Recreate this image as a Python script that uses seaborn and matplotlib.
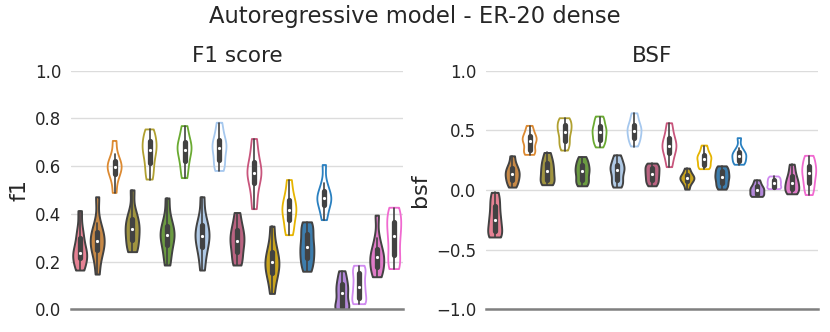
import numpy as np
import pandas as pd
import matplotlib
matplotlib.use("Agg")
import matplotlib.pyplot as plt
import seaborn as sns
from matplotlib.collections import PolyCollection

# one entry per violin, left to right
methods = [f"m{i}" for i in range(19)]
filled = [True, True, False, True, False, True, False, True, False, True,
          False, True, False, True, False, True, False, True, False]
colors = ["#f7718a", "#dc8a32", "#dc8a32", "#b0a030", "#b0a030", "#6aaa32", "#6aaa32",
          "#a6c8ee", "#a6c8ee", "#c8557c", "#c8557c", "#e6b400", "#e6b400",
          "#2a80c0", "#2a80c0", "#b47ae8", "#d08af0", "#f06ad0", "#f06ad0"]

f1_values = [
    [0.165, 0.185, 0.215, 0.228, 0.238, 0.262, 0.300, 0.335, 0.414],
    [0.148, 0.215, 0.247, 0.270, 0.286, 0.305, 0.324, 0.360, 0.472],
    [0.488, 0.540, 0.567, 0.585, 0.597, 0.607, 0.622, 0.650, 0.706],
    [0.242, 0.260, 0.289, 0.315, 0.337, 0.355, 0.379, 0.410, 0.501],
    [0.544, 0.580, 0.615, 0.645, 0.668, 0.685, 0.705, 0.730, 0.754],
    [0.186, 0.230, 0.268, 0.295, 0.312, 0.330, 0.351, 0.390, 0.467],
    [0.550, 0.590, 0.622, 0.650, 0.668, 0.685, 0.700, 0.730, 0.768],
    [0.165, 0.225, 0.263, 0.290, 0.309, 0.330, 0.353, 0.390, 0.472],
    [0.580, 0.600, 0.626, 0.655, 0.677, 0.690, 0.710, 0.740, 0.782],
    [0.186, 0.210, 0.242, 0.270, 0.288, 0.310, 0.332, 0.360, 0.406],
    [0.420, 0.480, 0.528, 0.555, 0.573, 0.590, 0.619, 0.660, 0.714],
    [0.067, 0.125, 0.151, 0.178, 0.197, 0.215, 0.242, 0.280, 0.349],
    [0.311, 0.340, 0.374, 0.400, 0.416, 0.435, 0.458, 0.490, 0.542],
    [0.160, 0.190, 0.214, 0.240, 0.262, 0.285, 0.318, 0.345, 0.367],
    [0.374, 0.410, 0.437, 0.455, 0.465, 0.478, 0.497, 0.530, 0.605],
    [0.000, 0.005, 0.011, 0.040, 0.067, 0.085, 0.106, 0.130, 0.162],
    [0.022, 0.030, 0.046, 0.075, 0.095, 0.120, 0.151, 0.170, 0.183],
    [0.137, 0.155, 0.179, 0.200, 0.218, 0.235, 0.255, 0.300, 0.395],
    [0.169, 0.190, 0.228, 0.270, 0.307, 0.340, 0.367, 0.400, 0.426],
]

bsf_values = [
    [-0.393, -0.375, -0.345, -0.290, -0.248, -0.200, -0.136, -0.080, -0.019],
    [0.025, 0.060, 0.086, 0.115, 0.136, 0.160, 0.184, 0.220, 0.287],
    [0.295, 0.320, 0.337, 0.390, 0.415, 0.430, 0.454, 0.490, 0.538],
    [0.045, 0.070, 0.086, 0.130, 0.156, 0.190, 0.226, 0.260, 0.315],
    [0.331, 0.380, 0.407, 0.460, 0.490, 0.520, 0.546, 0.580, 0.602],
    [0.036, 0.065, 0.086, 0.130, 0.156, 0.180, 0.212, 0.240, 0.281],
    [0.357, 0.400, 0.421, 0.460, 0.485, 0.510, 0.538, 0.580, 0.616],
    [0.025, 0.060, 0.086, 0.135, 0.164, 0.190, 0.212, 0.250, 0.295],
    [0.365, 0.410, 0.435, 0.470, 0.496, 0.520, 0.546, 0.590, 0.643],
    [0.036, 0.065, 0.086, 0.115, 0.136, 0.160, 0.184, 0.205, 0.226],
    [0.192, 0.260, 0.309, 0.345, 0.370, 0.400, 0.435, 0.490, 0.560],
    [0.008, 0.050, 0.072, 0.090, 0.100, 0.112, 0.128, 0.150, 0.184],
    [0.175, 0.190, 0.212, 0.240, 0.262, 0.278, 0.295, 0.330, 0.373],
    [0.008, 0.035, 0.058, 0.090, 0.109, 0.130, 0.156, 0.180, 0.203],
    [0.212, 0.228, 0.240, 0.270, 0.287, 0.300, 0.315, 0.350, 0.435],
    [-0.053, -0.045, -0.031, -0.012, 0.003, 0.015, 0.031, 0.055, 0.086],
    [0.008, 0.018, 0.025, 0.045, 0.058, 0.070, 0.086, 0.100, 0.114],
    [-0.031, -0.010, 0.008, 0.035, 0.058, 0.085, 0.114, 0.160, 0.217],
    [-0.042, 0.010, 0.058, 0.100, 0.142, 0.170, 0.203, 0.250, 0.287],
]


def to_long(values, col):
    rows = []
    for m, vals in zip(methods, values):
        for v in vals:
            rows.append({"method": m, col: v})
    return pd.DataFrame(rows)


def draw_panel(ax, df, col, title, ylim, ticks):
    sns.violinplot(data=df, x="method", y=col, hue="method", palette=colors,
                   legend=False, cut=0, density_norm="width", width=0.8,
                   bw_adjust=0.7, linewidth=1.4, inner="box",
                   inner_kws=dict(box_width=3.8, whis_width=1.2, marker=".", markersize=3),
                   ax=ax)
    bodies = [c for c in ax.collections if isinstance(c, PolyCollection)]
    for body, fill, c in zip(bodies, filled, colors):
        if not fill:
            body.set_facecolor("none")
            body.set_edgecolor(c)
            body.set_linewidth(1.3)
    ax.set_ylim(*ylim)
    ax.set_yticks(ticks)
    ax.set_xticks([])
    ax.set_xlabel("")
    ax.set_ylabel(col, fontsize=16)
    ax.set_title(title, fontsize=15.5)
    ax.tick_params(axis="y", labelsize=12, length=0, pad=7)
    ax.grid(axis="y", color="#dcdcdc", linewidth=1)
    ax.grid(axis="x", visible=False)
    for s in ["left", "right", "top"]:
        ax.spines[s].set_visible(False)
    ax.spines["bottom"].set_color("#808080")
    ax.spines["bottom"].set_linewidth(1.8)


sns.set_style("whitegrid")
fig, axes = plt.subplots(1, 2, figsize=(8.3, 3.32), dpi=100)
fig.subplots_adjust(left=0.0855, right=0.9855, bottom=0.068, top=0.787, wspace=0.25)

draw_panel(axes[0], to_long(f1_values, "f1"), "f1", "F1 score", (0, 1.0),
           [0.0, 0.2, 0.4, 0.6, 0.8, 1.0])
draw_panel(axes[1], to_long(bsf_values, "bsf"), "bsf", "BSF", (-1.0, 1.0),
           [-1.0, -0.5, 0.0, 0.5, 1.0])

fig.suptitle("Autoregressive model - ER-20 dense", fontsize=16.3, y=0.95, va="center")
fig.savefig("out.png", dpi=100)
